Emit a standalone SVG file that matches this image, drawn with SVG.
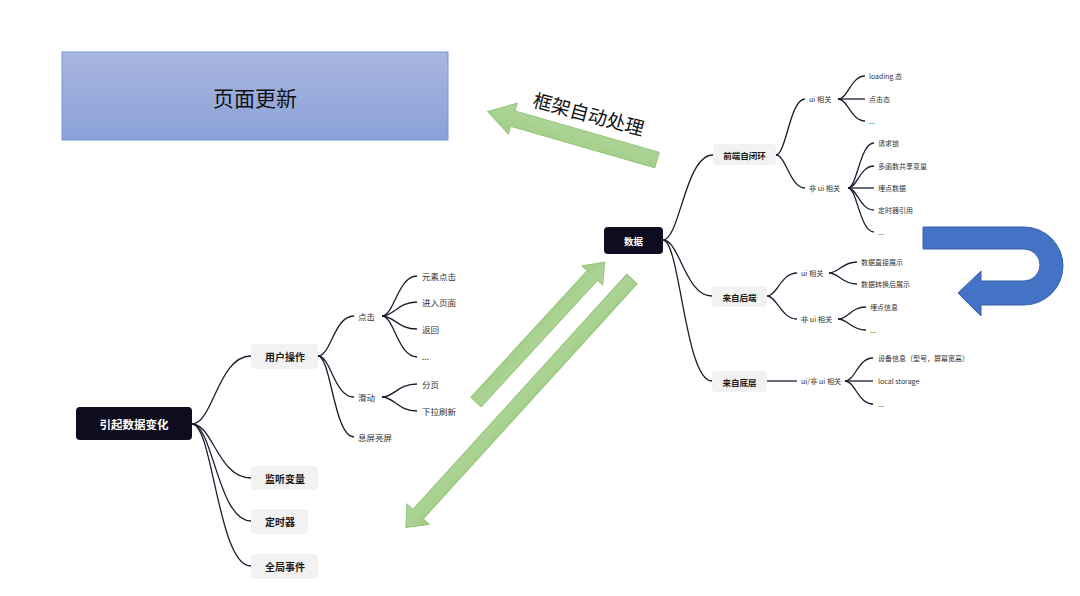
<svg xmlns="http://www.w3.org/2000/svg" width="1080" height="596" viewBox="0 0 1080 596">
<defs>
<linearGradient id="boxGrad" x1="0" y1="0" x2="0" y2="1">
<stop offset="0" stop-color="#a9b6df"/>
<stop offset="1" stop-color="#8aa1d8"/>
</linearGradient>
<linearGradient id="greenGrad" x1="0" y1="0" x2="0" y2="1">
<stop offset="0" stop-color="#a2cd87"/>
<stop offset="1" stop-color="#b0d69a"/>
</linearGradient>
<style>
.t{font-family:"Noto Sans CJK SC","Liberation Sans",sans-serif;dominant-baseline:central}
.root{fill:#0e0c1f;}
.rootT{fill:#ffffff;font-weight:bold}
.sub{fill:#f2f2f2;}
.subT{fill:#1a1a1a;font-weight:bold}
.leaf{fill:#333333}
.conn path{fill:none;stroke:#1e1c30;stroke-width:1.3}
.green{fill:url(#greenGrad);stroke:#95c278;stroke-width:1}
</style>
</defs>
<rect width="1080" height="596" fill="#ffffff"/>

<g id="page-update">
<rect x="62" y="52" width="386" height="88" fill="url(#boxGrad)" stroke="#7a96d6" stroke-width="1"/>
<text class="t" x="255" y="97" font-size="21" text-anchor="middle" fill="#111111">页面更新</text>
</g>

<g id="framework-arrow">
<polygon class="green" transform="translate(657,160) rotate(196)" points="0,-8 150,-8 150,-16 176,0 150,16 150,8 0,8"/>
<text class="t" x="589" y="113" font-size="19" text-anchor="middle" fill="#111111" transform="rotate(15 589 113)">框架自动处理</text>
</g>

<g id="up-arrow">
<polygon class="green" transform="translate(476,402) rotate(-47.4)" points="0,-7 172,-7 172,-14 190,0 172,14 172,7 0,7"/>
</g>
<g id="down-arrow">
<polygon class="green" transform="translate(632,279) rotate(132.3)" points="0,-7 318,-7 318,-15 336,0 318,15 318,7 0,7"/>
</g>

<g id="uturn-arrow">
<path d="M923,227 L1024,227 A39,39 0 0 1 1024,305 L981,305 L981,316 L958,293 L981,271 L981,281 L1024,281 A16,16 0 0 0 1024,249 L923,249 Z" fill="#4472c4" stroke="#3a63ad" stroke-width="1"/>
</g>

<g id="connectors" class="conn">
<!-- left map -->
<path d="M192,424 C213,424 218,356 251,356"/>
<path d="M192,424 C213,424 218,478 251,478"/>
<path d="M192,424 C213,424 218,521 251,521"/>
<path d="M192,424 C213,424 218,566 251,566"/>
<path d="M318,356 C331,356 334,316 354,316"/>
<path d="M318,356 C331,356 334,397 354,397"/>
<path d="M318,356 C331,356 334,437 354,437"/>
<path d="M382,316 C394,316 398,276 417,276"/>
<path d="M382,316 C394,316 398,302 417,302"/>
<path d="M382,316 C394,316 398,329 417,329"/>
<path d="M382,316 C394,316 398,357 417,357"/>
<path d="M382,397 C394,397 398,384 417,384"/>
<path d="M382,397 C394,397 398,411 417,411"/>
<!-- right map -->
<path d="M663,240 C680,240 685,155 713,155"/>
<path d="M663,240 C680,240 685,296 712,296"/>
<path d="M663,240 C680,240 685,381 712,381"/>
<path d="M776,155 C786,155 790,99 805,99"/>
<path d="M776,155 C786,155 790,188 805,188"/>
<path d="M838,99 C848,99 851,76 865,76"/>
<path d="M838,99 L865,99"/>
<path d="M838,99 C848,99 851,121 865,121"/>
<path d="M848,188 C857,188 860,143 874,143"/>
<path d="M848,188 C857,188 860,166 874,166"/>
<path d="M848,188 L874,188"/>
<path d="M848,188 C857,188 860,210 874,210"/>
<path d="M848,188 C857,188 860,232 874,232"/>
<path d="M767,296 C777,296 781,273 797,273"/>
<path d="M767,296 C777,296 781,319 797,319"/>
<path d="M829,273 C839,273 842,262 857,262"/>
<path d="M829,273 C839,273 842,284 857,284"/>
<path d="M838,319 C848,319 851,307 866,307"/>
<path d="M838,319 C848,319 851,330 866,330"/>
<path d="M767,381 L797,381"/>
<path d="M845,381 C855,381 858,358 873,358"/>
<path d="M845,381 L873,381"/>
<path d="M845,381 C855,381 858,404 873,404"/>
</g>

<!-- left map nodes -->
<g id="n-cause">
<rect class="root" x="76" y="407" width="116" height="33" rx="4"/>
<text class="t rootT" x="134" y="423.5" font-size="11.5" text-anchor="middle">引起数据变化</text>
</g>
<g id="n-user-op">
<rect class="sub" x="251" y="344" width="67" height="25" rx="4"/>
<text class="t subT" x="265" y="356.5" font-size="10">用户操作</text>
</g>
<g id="n-watch">
<rect class="sub" x="251" y="466" width="67" height="24" rx="4"/>
<text class="t subT" x="265" y="478" font-size="10">监听变量</text>
</g>
<g id="n-timer">
<rect class="sub" x="251" y="509" width="57" height="25" rx="4"/>
<text class="t subT" x="265" y="521.5" font-size="10">定时器</text>
</g>
<g id="n-global">
<rect class="sub" x="251" y="554" width="67" height="25" rx="4"/>
<text class="t subT" x="265" y="566.5" font-size="10">全局事件</text>
</g>
<g id="n-click"><text class="t leaf" x="358" y="316" font-size="8.5">点击</text></g>
<g id="n-scroll"><text class="t leaf" x="358" y="397" font-size="8.5">滑动</text></g>
<g id="n-screen"><text class="t leaf" x="358" y="437" font-size="8.5">息屏亮屏</text></g>
<g id="n-elem-click"><text class="t leaf" x="422" y="276" font-size="8.5">元素点击</text></g>
<g id="n-enter-page"><text class="t leaf" x="422" y="302" font-size="8.5">进入页面</text></g>
<g id="n-back"><text class="t leaf" x="422" y="329" font-size="8.5">返回</text></g>
<g id="n-click-more"><text class="t leaf" x="422" y="356" font-size="8.5">...</text></g>
<g id="n-paging"><text class="t leaf" x="422" y="384" font-size="8.5">分页</text></g>
<g id="n-refresh"><text class="t leaf" x="422" y="411" font-size="8.5">下拉刷新</text></g>

<!-- right map nodes -->
<g id="n-data">
<rect class="root" x="604" y="227" width="59" height="27" rx="4"/>
<text class="t rootT" x="633.5" y="240.5" font-size="9.5" text-anchor="middle">数据</text>
</g>
<g id="n-frontend">
<rect class="sub" x="713" y="144" width="63" height="21" rx="4"/>
<text class="t subT" x="744.5" y="155" font-size="8.5" text-anchor="middle">前端自闭环</text>
</g>
<g id="n-backend">
<rect class="sub" x="712" y="286" width="55" height="21" rx="4"/>
<text class="t subT" x="739.5" y="296.5" font-size="8.5" text-anchor="middle">来自后端</text>
</g>
<g id="n-native">
<rect class="sub" x="712" y="371" width="55" height="21" rx="4"/>
<text class="t subT" x="739.5" y="381.5" font-size="8.5" text-anchor="middle">来自底层</text>
</g>
<g id="n-fe-ui"><text class="t leaf" x="809" y="99" font-size="7.2">ui 相关</text></g>
<g id="n-fe-nonui"><text class="t leaf" x="809" y="188" font-size="7.2">非 ui 相关</text></g>
<g id="n-loading"><text class="t leaf" x="869" y="76" font-size="7">loading 态</text></g>
<g id="n-click-state"><text class="t leaf" x="869" y="99" font-size="7">点击态</text></g>
<g id="n-fe-ui-more"><text class="t leaf" x="869" y="121" font-size="7">...</text></g>
<g id="n-lock"><text class="t leaf" x="878" y="143" font-size="7">请求锁</text></g>
<g id="n-shared"><text class="t leaf" x="878" y="166" font-size="7">多函数共享变量</text></g>
<g id="n-track"><text class="t leaf" x="878" y="188" font-size="7">埋点数据</text></g>
<g id="n-timer-ref"><text class="t leaf" x="878" y="210" font-size="7">定时器引用</text></g>
<g id="n-fe-nonui-more"><text class="t leaf" x="878" y="232" font-size="7">...</text></g>
<g id="n-be-ui"><text class="t leaf" x="801" y="273" font-size="7.2">ui 相关</text></g>
<g id="n-be-nonui"><text class="t leaf" x="801" y="319" font-size="7.2">非 ui 相关</text></g>
<g id="n-direct"><text class="t leaf" x="861" y="262" font-size="7">数据直接展示</text></g>
<g id="n-convert"><text class="t leaf" x="861" y="284" font-size="7">数据转换后展示</text></g>
<g id="n-track-info"><text class="t leaf" x="870" y="307" font-size="7">埋点信息</text></g>
<g id="n-be-more"><text class="t leaf" x="870" y="330" font-size="7">...</text></g>
<g id="n-native-ui"><text class="t leaf" x="801" y="381" font-size="7.2">ui/非 ui 相关</text></g>
<g id="n-device"><text class="t leaf" x="878" y="358" font-size="7">设备信息（型号，屏幕宽高）</text></g>
<g id="n-storage"><text class="t leaf" x="878" y="381" font-size="7">local storage</text></g>
<g id="n-native-more"><text class="t leaf" x="878" y="404" font-size="7">...</text></g>
</svg>
